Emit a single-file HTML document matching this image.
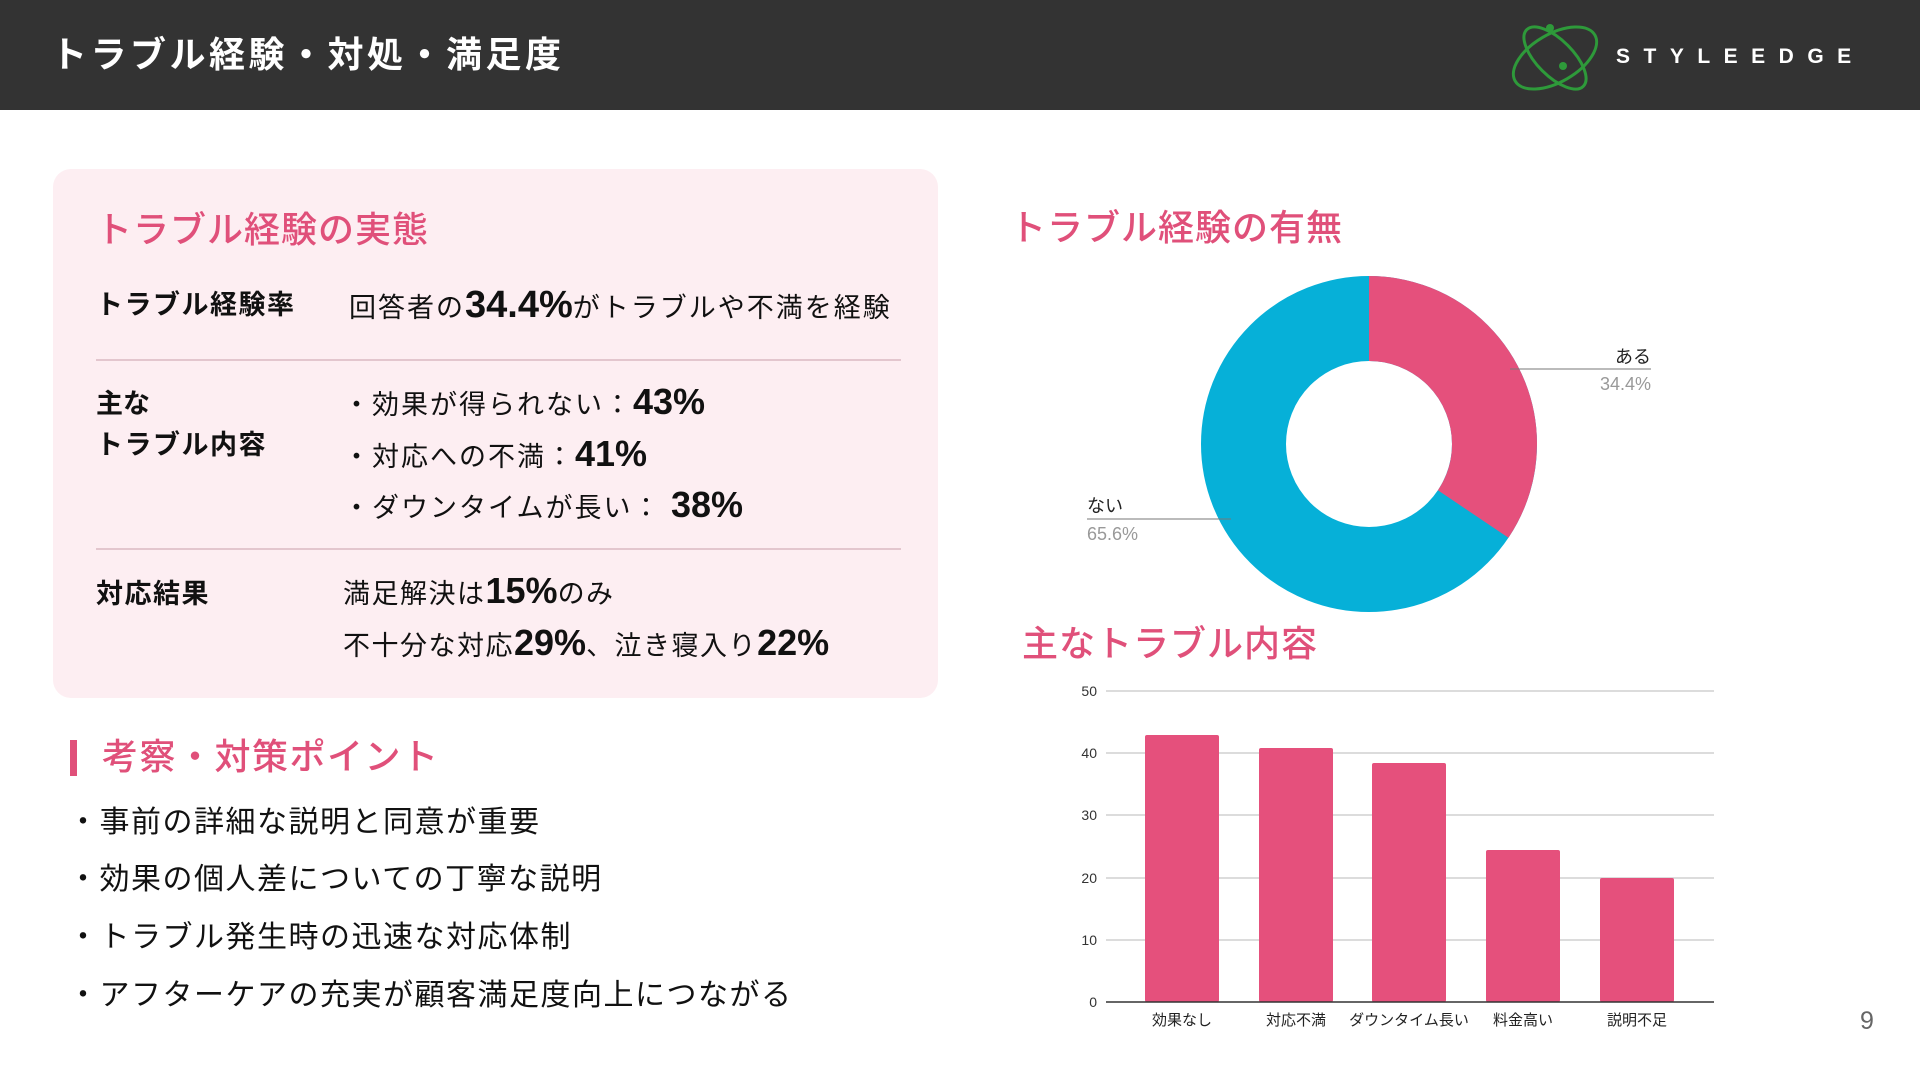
<!DOCTYPE html>
<html><head><meta charset="utf-8"><style>
*{margin:0;padding:0;box-sizing:border-box}
body{width:1920px;height:1080px;background:#fff;position:relative;overflow:hidden;font-family:"Liberation Sans","Noto Sans CJK JP",sans-serif;color:#111}
.a{position:absolute;white-space:nowrap;line-height:1}
.pk{color:#e0507a}
b{font-weight:700;letter-spacing:0}
</style></head><body>
<div class="a" style="left:0;top:0;width:1920px;height:110px;background:#333"></div>
<div class="a" style="left:51px;top:37px;font-size:36px;color:#fff;font-weight:700;letter-spacing:3.5px">トラブル経験・対処・満足度</div>
<svg class="a" style="left:1500px;top:20px" width="110" height="72" viewBox="0 0 110 72">
<ellipse cx="55" cy="38" rx="46" ry="24" fill="none" stroke="#2e9a3a" stroke-width="3" transform="rotate(-30 55 38)"/>
<ellipse cx="55" cy="38" rx="40" ry="18" fill="none" stroke="#2e9a3a" stroke-width="3" transform="rotate(45 55 38)"/>
<circle cx="50" cy="8" r="4" fill="#2e9a3a"/><circle cx="63" cy="46" r="4" fill="#2e9a3a"/>
</svg>
<div class="a" style="left:1616px;top:46px;font-size:21px;color:#fff;font-weight:700;letter-spacing:13.5px">STYLEEDGE</div>

<div class="a" style="left:53px;top:169px;width:885px;height:529px;background:#fdeef2;border-radius:18px"></div>
<div class="a pk" style="left:96px;top:212px;font-size:36px;font-weight:500;letter-spacing:1px">トラブル経験の実態</div>
<div class="a" style="left:96px;top:292px;font-size:27px;font-weight:700;letter-spacing:1.5px">トラブル経験率</div>
<div class="a" style="left:349px;top:286px;font-size:27px;letter-spacing:2px">回答者の<b style="font-size:38px">34.4%</b>がトラブルや不満を経験</div>
<div class="a" style="left:96px;top:359px;width:805px;height:2px;background:#e3c6ce"></div>
<div class="a" style="left:96px;top:391px;font-size:27px;font-weight:700">主な</div>
<div class="a" style="left:96px;top:432px;font-size:27px;font-weight:700;letter-spacing:1.5px">トラブル内容</div>
<div class="a" style="left:343px;top:384px;font-size:27px;letter-spacing:2px">・効果が得られない：<b style="font-size:36px">43%</b></div>
<div class="a" style="left:343px;top:436px;font-size:27px;letter-spacing:2px">・対応への不満：<b style="font-size:36px">41%</b></div>
<div class="a" style="left:343px;top:487px;font-size:27px;letter-spacing:2px">・ダウンタイムが長い： <b style="font-size:36px">38%</b></div>
<div class="a" style="left:96px;top:548px;width:805px;height:2px;background:#e3c6ce"></div>
<div class="a" style="left:96px;top:581px;font-size:27px;font-weight:700;letter-spacing:1.5px">対応結果</div>
<div class="a" style="left:343px;top:573px;font-size:27px;letter-spacing:1.5px">満足解決は<b style="font-size:36px">15%</b>のみ</div>
<div class="a" style="left:343px;top:625px;font-size:27px;letter-spacing:1.5px">不十分な対応<b style="font-size:36px">29%</b>、泣き寝入り<b style="font-size:36px">22%</b></div>

<div class="a" style="left:70px;top:740px;width:7px;height:36px;background:#e0507a"></div>
<div class="a pk" style="left:102px;top:739px;font-size:36px;font-weight:500;letter-spacing:1.5px">考察・対策ポイント</div>
<div class="a" style="left:68px;top:808px;font-size:30px;letter-spacing:1.5px">・事前の詳細な説明と同意が重要</div>
<div class="a" style="left:68px;top:865px;font-size:30px;letter-spacing:1.5px">・効果の個人差についての丁寧な説明</div>
<div class="a" style="left:68px;top:923px;font-size:30px;letter-spacing:1.5px">・トラブル発生時の迅速な対応体制</div>
<div class="a" style="left:68px;top:981px;font-size:30px;letter-spacing:1.5px">・アフターケアの充実が顧客満足度向上につながる</div>

<div class="a pk" style="left:1010px;top:210px;font-size:36px;font-weight:500;letter-spacing:1px">トラブル経験の有無</div>
<div class="a pk" style="left:1022px;top:626px;font-size:36px;font-weight:500;letter-spacing:1px">主なトラブル内容</div>

<svg class="a" style="left:0;top:0" width="1920" height="1080">
<g transform="translate(1369,444)">
<circle r="125.5" fill="none" stroke="#06b0d8" stroke-width="85"/>
<circle r="125.5" fill="none" stroke="#e5507c" stroke-width="85" stroke-dasharray="271.3 1000" transform="rotate(-90)"/>
</g>
<line x1="1510" y1="369" x2="1651" y2="369" stroke="#777" stroke-width="1"/>
<line x1="1087" y1="519" x2="1231" y2="519" stroke="#777" stroke-width="1"/>
<g font-family="Liberation Sans, Noto Sans CJK JP, sans-serif" font-size="18">
<text x="1651" y="363" text-anchor="end" fill="#222">ある</text>
<text x="1651" y="390" text-anchor="end" fill="#999">34.4%</text>
<text x="1087" y="512" fill="#222">ない</text>
<text x="1087" y="540" fill="#999">65.6%</text>
</g>
<g stroke="#d0d0d0" stroke-width="1.5">
<line x1="1106" y1="691" x2="1714" y2="691"/><line x1="1106" y1="753" x2="1714" y2="753"/>
<line x1="1106" y1="815" x2="1714" y2="815"/><line x1="1106" y1="878" x2="1714" y2="878"/>
<line x1="1106" y1="940" x2="1714" y2="940"/>
</g>
<g fill="#e5507c">
<rect x="1145" y="735" width="74" height="267" rx="2"/>
<rect x="1259" y="748" width="74" height="254" rx="2"/>
<rect x="1372" y="763" width="74" height="239" rx="2"/>
<rect x="1486" y="850" width="74" height="152" rx="2"/>
<rect x="1600" y="878" width="74" height="124" rx="2"/>
</g>
<line x1="1106" y1="1002" x2="1714" y2="1002" stroke="#333" stroke-width="1.5"/>
<g font-family="Liberation Sans, Noto Sans CJK JP, sans-serif" font-size="14" fill="#333" text-anchor="end">
<text x="1097" y="696">50</text><text x="1097" y="758">40</text><text x="1097" y="820">30</text>
<text x="1097" y="883">20</text><text x="1097" y="945">10</text><text x="1097" y="1007">0</text>
</g>
<g font-family="Liberation Sans, Noto Sans CJK JP, sans-serif" font-size="15" fill="#222" text-anchor="middle">
<text x="1182" y="1025">効果なし</text><text x="1296" y="1025">対応不満</text><text x="1409" y="1025">ダウンタイム長い</text>
<text x="1523" y="1025">料金高い</text><text x="1637" y="1025">説明不足</text>
</g>
<text x="1867" y="1029" font-family="Liberation Sans, sans-serif" font-size="25" fill="#666" text-anchor="middle">9</text>
</svg>
</body></html>
